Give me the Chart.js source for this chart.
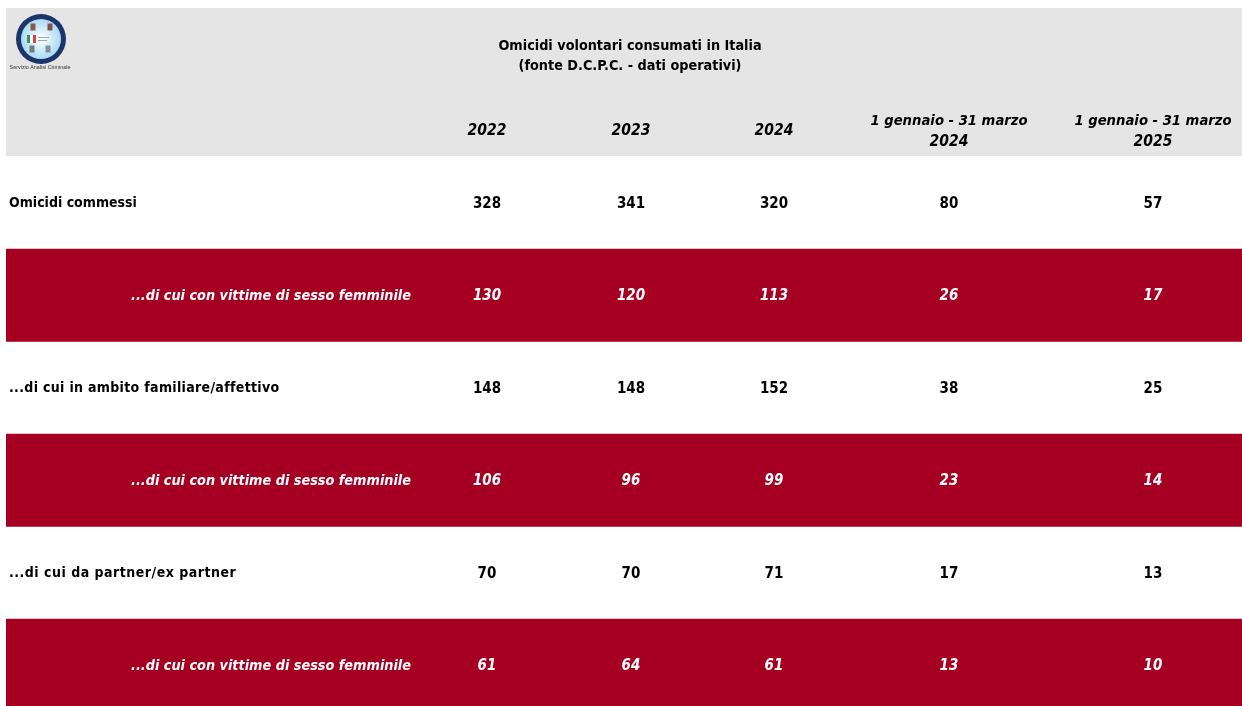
<!DOCTYPE html>
<html lang="it">
<head>
<meta charset="utf-8">
<title>Omicidi volontari consumati in Italia</title>
<script src="https://cdn.jsdelivr.net/npm/chart.js@4"></script>
<style>
    html, body { margin: 0; padding: 0; background: #ffffff; }
    #wrap { width: 1242px; height: 706px; }
</style>
</head>
<body>
<div id="wrap"><canvas id="tableChart"></canvas></div>
<script>
// Dati della tabella
const titleLines = ['Omicidi volontari consumati in Italia', '(fonte D.C.P.C. - dati operativi)'];
const columnLabels = ['2022', '2023', '2024', ['1 gennaio - 31 marzo', '2024'], ['1 gennaio - 31 marzo', '2025']];
const rowLabels = [
    'Omicidi commessi',
    '...di cui con vittime di sesso femminile',
    '...di cui in ambito familiare/affettivo',
    '...di cui con vittime di sesso femminile',
    '...di cui da partner/ex partner',
    '...di cui con vittime di sesso femminile'
];
const omicidiCommessi = [328, 341, 320, 80, 57];
const commessiVittimeF = [130, 120, 113, 26, 17];
const ambitoFamiliare = [148, 148, 152, 38, 25];
const familiareVittimeF = [106, 96, 99, 23, 14];
const partnerExPartner = [70, 70, 71, 17, 13];
const partnerVittimeF = [61, 64, 61, 13, 10];
const rowValues = [omicidiCommessi, commessiVittimeF, ambitoFamiliare, familiareVittimeF, partnerExPartner, partnerVittimeF];

// Impaginazione
const GREY = '#e5e5e5';
const RED = '#a50021';
const FONT = '"DejaVu Sans Condensed", "DejaVu Sans", sans-serif';
const columnCenters = [481, 625, 768, 943, 1147]; // distanza dal bordo sinistro del riquadro
const labelSpacing = ['0px', '0px', '0.32px', '0px', '0.5px', '0px'];
const Y_MIN = -1.605;
const Y_MAX = 5.94;

function drawText(ctx, text, x, y, font, color, align, spacing) {
    ctx.font = font;
    ctx.letterSpacing = spacing || '0px';
    ctx.fillStyle = color;
    ctx.textAlign = align;
    ctx.textBaseline = 'middle';
    ctx.fillText(text, x, y);
}

function drawLogo(ctx) {
    const cx = 41, cy = 39;
    ctx.save();
    ctx.beginPath();
    ctx.arc(cx, cy, 25, 0, Math.PI * 2);
    ctx.fillStyle = '#1c3468';
    ctx.fill();
    ctx.beginPath();
    ctx.arc(cx, cy, 20, 0, Math.PI * 2);
    const g = ctx.createRadialGradient(cx, cy, 3, cx, cy, 20);
    g.addColorStop(0, '#f4fbfe');
    g.addColorStop(1, '#a9daf3');
    ctx.fillStyle = g;
    ctx.fill();
    // tricolore
    [['#2f9a55', 27], ['#ffffff', 30], ['#d8433f', 33]].forEach(([c, x]) => {
        ctx.fillStyle = c;
        ctx.fillRect(x, 35, 3, 8);
    });
    // stemmi
    [[33, 27, '#8a5a44'], [50, 27, '#8a4a50'], [32, 49, '#6f8078'], [48, 49, '#7f8f9f']].forEach(([x, y, c]) => {
        ctx.fillStyle = c;
        ctx.fillRect(x - 2.5, y - 3.5, 5, 7);
    });
    ctx.fillStyle = '#9aa7b5';
    ctx.fillRect(38, 37, 11, 1);
    ctx.fillRect(38, 40, 9, 1);
    ctx.restore();
    drawText(ctx, 'Servizio Analisi Criminale', 40, 68, '5.4px "Liberation Sans", sans-serif', '#333333', 'center');
}

// Testi della tabella
const tableTextPlugin = {
    id: 'tableText',
    afterDatasetsDraw(chart) {
        const { ctx, chartArea } = chart;
        const y = chart.scales.y;
        const colX = v => chartArea.left + v;
        ctx.save();
        drawLogo(ctx);

        // titolo
        const titleFont = `bold 14.3px ${FONT}`;
        drawText(ctx, titleLines[0], 630, 46, titleFont, '#000000', 'center');
        drawText(ctx, titleLines[1], 630, 66, titleFont, '#000000', 'center');

        // intestazioni
        const headFont = `italic bold 14.7px ${FONT}`;
        const yearFont = `italic bold 15.5px ${FONT}`;
        columnLabels.forEach((label, c) => {
            const px = colX(columnCenters[c]);
            if (Array.isArray(label)) {
                drawText(ctx, label[0], px, 121.5, headFont, '#000000', 'center');
                drawText(ctx, label[1], px, 141.5, yearFont, '#000000', 'center');
            } else {
                drawText(ctx, label, px, 130.5, yearFont, '#000000', 'center');
            }
        });

        // righe
        rowLabels.forEach((label, r) => {
            const py = y.getPixelForValue(r + 0.5) + 1;
            const female = r % 2 === 1;
            const labelFont = female ? `italic bold 14.3px ${FONT}` : `bold 14px ${FONT}`;
            const valueFont = female ? `italic bold 15px ${FONT}` : `bold 15px ${FONT}`;
            const color = female ? '#ffffff' : '#000000';
            if (female) {
                drawText(ctx, label, colX(405), py, labelFont, color, 'right', labelSpacing[r]);
            } else {
                drawText(ctx, label, colX(3), py, labelFont, color, 'left', labelSpacing[r]);
            }
            rowValues[r].forEach((v, c) => {
                drawText(ctx, String(v), colX(columnCenters[c]), py, valueFont, color, 'center');
            });
        });
        ctx.restore();
    }
};

// Fasce di sfondo
const bands = [
    { data: [[Y_MIN, -0.01]], backgroundColor: GREY },
    { data: [[1, 2]], backgroundColor: RED },
    { data: [[3, 4]], backgroundColor: RED },
    { data: [[5, Y_MAX]], backgroundColor: RED }
];

let tableChart;

function initChart() {
    const ctx = document.getElementById('tableChart');
    tableChart = new Chart(ctx, {
        type: 'bar',
        data: {
            labels: ['tabella'],
            datasets: bands.map(b => ({
                data: b.data,
                backgroundColor: b.backgroundColor,
                barPercentage: 1,
                categoryPercentage: 1,
                grouped: false,
                borderWidth: 0
            }))
        },
        plugins: [tableTextPlugin],
        options: {
            responsive: true,
            maintainAspectRatio: false,
            animation: false,
            layout: { padding: { left: 6, top: 8 } },
            plugins: { legend: { display: false }, tooltip: { enabled: false }, title: { display: false } },
            scales: {
                x: { display: false },
                y: { display: false, reverse: true, min: Y_MIN, max: Y_MAX }
            }
        }
    });
}

document.addEventListener('DOMContentLoaded', initChart);
</script>
</body>
</html>
